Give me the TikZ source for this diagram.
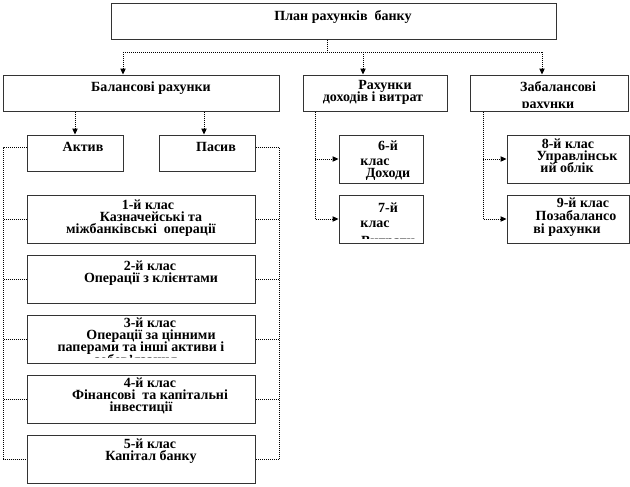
\documentclass[tikz,border=0pt]{standalone}
\usepackage{fontspec}
\setmainfont{Liberation Serif}
\usetikzlibrary{arrows.meta,calc}
\begin{document}
\begin{tikzpicture}[x=0.75pt,y=-0.75pt,
  box/.style={draw=black!80, line width=0.75pt, rectangle, inner sep=0pt, fill=white},
  wh/.style 2 args={minimum width=#1*0.75pt, minimum height=#2*0.75pt},
  txt/.style={font=\bfseries\fontsize{10.5}{12}\selectfont, inner sep=0pt, anchor=base, text=black},
  conn/.style={line width=0.75pt, dash pattern=on 0.75pt off 0.75pt},
  arr/.style={conn, -{Triangle[length=4.5pt,width=4pt]}}]
\useasboundingbox[fill=white] (0,0) rectangle (630,486);

% boxes
\node[box, wh={445}{36}] (plan)  at (333.5,21) {};
\node[box, wh={276}{36}] (bal)   at (141,93) {};
\node[box, wh={144}{36}] (rd)    at (375,93) {};
\node[box, wh={158}{36}] (zb)    at (549,93) {};
\node[box, wh={96}{36}]  (aktiv) at (75,153) {};
\node[box, wh={96}{36}]  (pasiv) at (207,153) {};
\node[box, wh={228}{48}] (c1) at (141,219) {};
\node[box, wh={228}{48}] (c2) at (141,279) {};
\node[box, wh={228}{48}] (c3) at (141,339) {};
\node[box, wh={228}{48}] (c4) at (141,399) {};
\node[box, wh={228}{48}] (c5) at (141,459) {};
\node[box, wh={84}{48}]  (c6) at (381,159) {};
\node[box, wh={84}{48}]  (c7) at (381,219) {};
\node[box, wh={122}{48}] (c8) at (568,159) {};
\node[box, wh={122}{48}] (c9) at (568,219) {};

% texts
\node[txt] (tplan) at (343,20) {План рахунків~ банку};
\node[txt] (tbal) at (151,91) {Балансові рахунки};
\node[txt] (trd1) at (385,89) {Рахунки};
\node[txt] (trd2) at (373,101) {доходів і витрат};
\begin{scope}
  \clip (zb.north west) rectangle ([yshift=3.2pt]zb.south east);
  \node[txt] (tzb1) at (558,91) {Забалансові};
  \node[txt] (tzb2) at (548,108.5) {рахунки};
\end{scope}
\node[txt] (tak) at (83,151) {Актив};
\node[txt] (tpa) at (216,151) {Пасив};
\node[txt] (t11) at (148,209) {1-й клас};
\node[txt] (t12) at (151,221.5) {Казначейські та};
\node[txt] (t13) at (141,233.5) {міжбанківські~ операції};
\node[txt] (t21) at (150,270) {2-й клас};
\node[txt] (t22) at (151,282) {Операції з клієнтами};
\begin{scope}
  \clip (c3.north west) rectangle ([yshift=4.5pt]c3.south east);
  \node[txt] (t31) at (150,327) {3-й клас};
  \node[txt] (t32) at (151,339) {Операції за цінними};
  \node[txt] (t33) at (141,351) {паперами та інші активи і};
  \node[txt] (t34) at (136,364) {зобов’язання};
\end{scope}
\node[txt] (t41) at (150,387) {4-й клас};
\node[txt] (t42) at (150,399) {Фінансові~ та капітальні};
\node[txt] (t43) at (141,411) {інвестиції};
\node[txt] (t51) at (150,448) {5-й клас};
\node[txt] (t52) at (151,460) {Капітал банку};
\node[txt] (t61) at (388,150) {6-й};
\node[txt] (t62) at (375,165) {клас};
\node[txt] (t63) at (388,177.5) {Доходи};
\begin{scope}
  \clip (c7.north west) rectangle ([yshift=3.7pt]c7.south east);
  \node[txt] (t71) at (388,212) {7-й};
  \node[txt] (t72) at (375,227) {клас};
  \node[txt] (t73) at (388,245) {Витрати};
\end{scope}
\node[txt] (t81) at (568,148) {8-й клас};
\node[txt] (t82) at (577,160.5) {Управлінськ};
\node[txt] (t83) at (567,172.5) {ий облік};
\node[txt] (t91) at (583,207) {9-й клас};
\node[txt] (t92) at (576,220) {Позабалансо};
\node[txt] (t93) at (567,233) {ві рахунки};

% connectors
\coordinate (jC) at (327,52);
\coordinate (jL) at (123,52);
\coordinate (jM) at (363,52);
\coordinate (jR) at (542,52);
\draw[conn] (plan.south -| jC) -- (jC);
\draw[conn] (jL) -- (jR);
\draw[arr] (jL) -- (jL |- bal.north);
\draw[arr] (jM) -- (jM |- rd.north);
\draw[arr] (jR) -- (jR |- zb.north);

\draw[arr] (bal.south -| aktiv.north) -- (aktiv.north);
\draw[arr] ([xshift=-2.25pt]bal.south -| pasiv.north) -- ([xshift=-2.25pt]pasiv.north);

\coordinate (busL) at (3.5,147);
\coordinate (busR) at (279,147);
\draw[conn] ([yshift=4.5pt]aktiv.west) -- (busL) |- (c5.west);
\draw[conn] (busL |- c1.west) -- (c1.west);
\draw[conn] (busL |- c2.west) -- (c2.west);
\draw[conn] (busL |- c3.west) -- (c3.west);
\draw[conn] (busL |- c4.west) -- (c4.west);
\draw[conn] ([yshift=4.5pt]pasiv.east) -- (busR) |- (c5.east);
\draw[conn] (busR |- c1.east) -- (c1.east);
\draw[conn] (busR |- c2.east) -- (c2.east);
\draw[conn] (busR |- c3.east) -- (c3.east);
\draw[conn] (busR |- c4.east) -- (c4.east);

\coordinate (busD) at (315,111);
\draw[arr] (rd.south -| busD) |- (c7.west);
\draw[arr] (busD |- c6.west) -- (c6.west);
\coordinate (busZ) at (483,111);
\draw[arr] (zb.south -| busZ) |- (c9.west);
\draw[arr] (busZ |- c8.west) -- (c8.west);
\end{tikzpicture}
\end{document}
